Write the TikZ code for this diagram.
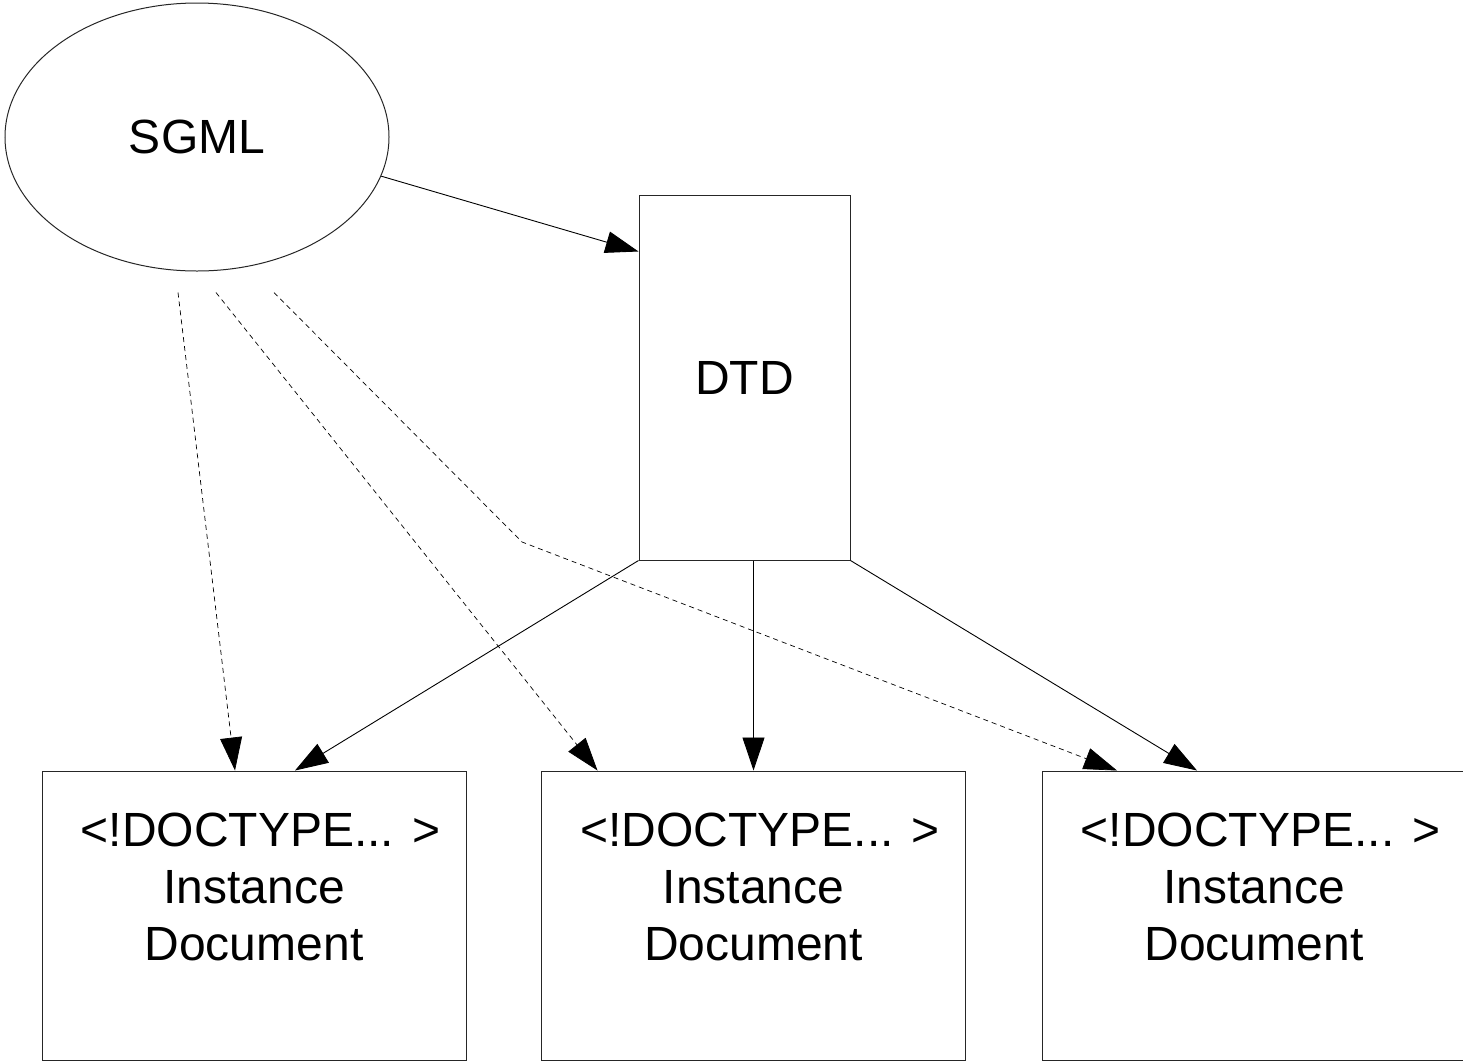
\documentclass[tikz,border=0pt]{standalone}
\usepackage{fontspec}
\setmainfont{Liberation Sans}
\usetikzlibrary{shapes.geometric,arrows.meta}

\begin{document}
\begin{tikzpicture}[x=1pt,y=-1pt,
  every node/.style={font=\fontsize{48}{57}\selectfont, inner sep=0pt},
  shapebox/.style={draw=black!85, line width=1pt},
  doctext/.style={align=center, anchor=north},
  solidarrow/.style={line width=0.9pt, -{Triangle[length=33pt,width=22pt]}},
  dashedarrow/.style={line width=0.7pt, dash pattern=on 5pt off 4pt,
                      -{Triangle[length=33pt,width=22pt]}}]
  \useasboundingbox (0,0) rectangle (1463,1061);

  % language and its document type definition
  \node[shapebox, ellipse, minimum width=384pt, minimum height=268pt] (sgml) at (197,137) {SGML};
  \node[shapebox, minimum width=211pt, minimum height=365pt] (dtd) at (744.5,377.5) {DTD};

  % instance documents
  \node[shapebox, minimum width=424pt, minimum height=289pt] (doc1) at (254,915.5) {};
  \node[shapebox, minimum width=424pt, minimum height=289pt] (doc2) at (753.5,915.5) {};
  \node[shapebox, minimum width=424pt, minimum height=289pt] (doc3) at (1254,915.5) {};
  \node[doctext] (t1) at (254,813) {\hspace*{13pt}<!DOCTYPE... >\\Instance\\Document};
  \node[doctext] (t2) at (753.5,813) {\hspace*{13pt}<!DOCTYPE... >\\Instance\\Document};
  \node[doctext] (t3) at (1254,813) {\hspace*{13pt}<!DOCTYPE... >\\Instance\\Document};

  % solid connectors
  \draw[solidarrow] (sgml.-12) -- ([yshift=-57pt]dtd.north west);
  \draw[solidarrow] (dtd.south west) -- ([xshift=41pt]doc1.north);
  \draw[solidarrow] (dtd.south -| doc2.north) -- (doc2.north);
  \draw[solidarrow] (dtd.south east) -- ([xshift=-57pt]doc3.north);

  % dashed connectors
  \coordinate (bend) at (522,542);
  \draw[dashedarrow] ([xshift=-19pt,yshift=-21pt]sgml.south) -- ([xshift=-19pt]doc1.north);
  \draw[dashedarrow] ([xshift=19pt,yshift=-21pt]sgml.south) -- ([xshift=-156pt]doc2.north);
  \draw[dashedarrow] ([xshift=77pt,yshift=-21pt]sgml.south) -- (bend) -- ([xshift=-137pt]doc3.north);
\end{tikzpicture}
\end{document}
